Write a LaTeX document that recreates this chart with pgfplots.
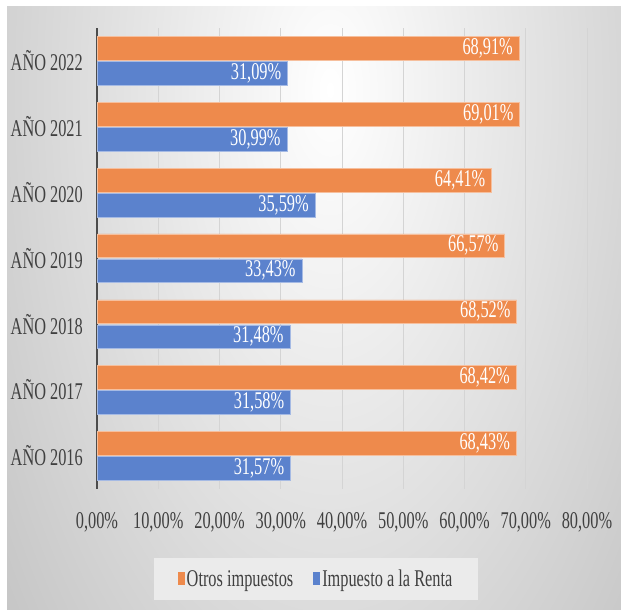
\documentclass[border=0pt]{standalone}
\usepackage{pgfplots}
\pgfplotsset{compat=1.18}
\usepackage{fontspec}
\setmainfont{Liberation Serif}[FakeStretch=0.68]
\definecolor{orOrange}{HTML}{EE8A4C}
\definecolor{orBlue}{HTML}{5B82CD}
\newcommand{\fs}{\fontsize{24}{28}\selectfont}
\begin{document}
\begin{tikzpicture}
\useasboundingbox (0pt,0pt) rectangle (621pt,610pt);
\begin{scope}
\clip (7pt,0pt) rectangle (621pt,603pt);
\shade[inner color=white, outer color=black!40] (330pt,520pt) ellipse (740pt and 1500pt);
\end{scope}
\begin{axis}[
  at={(97pt,121.4pt)}, anchor=south west,
  scale only axis, width=490pt, height=460.6pt,
  xmin=0, xmax=80, ymin=-0.5, ymax=6.5,
  xbar, bar width=0.36,
  axis x line*=bottom, axis y line*=left,
  x axis line style={draw=none},
  y axis line style={draw=black!70, line width=1.6pt, -},
  major tick length=0pt,
  xtick={0,10,...,80},
  ytick={0,...,6},
  yticklabels={AÑO 2016,AÑO 2017,AÑO 2018,AÑO 2019,AÑO 2020,AÑO 2021,AÑO 2022},
  /pgf/number format/assume math mode=true,
  xticklabel={\pgfmathprintnumber[fixed,fixed zerofill,precision=2,use comma,assume math mode=true]{\tick}\%},
  xticklabel style={font=\fs, text=black!75, inner sep=0pt, anchor=north, yshift=-24pt},
  yticklabel style={font=\fs, text=black!75, inner sep=0pt, anchor=east, xshift=-14pt},
  xmajorgrids, major grid style={draw=black!17, line width=0.9pt},
  point meta=x,
  nodes near coords={\pgfmathprintnumber[fixed,fixed zerofill,precision=2,use comma,assume math mode=true]{\pgfplotspointmeta}\%},
  every node near coord/.append style={font=\fs, text=white, anchor=east, inner sep=0pt, xshift=-6pt},
  legend columns=2,
  legend style={at={(0.447,-0.196)}, anchor=center, draw=none, fill=black!8,
    font=\fs, text=black!75, inner xsep=24pt, inner ysep=10pt,
    /tikz/every even column/.append style={column sep=18pt}},
  legend image code/.code={\fill[#1,draw=none] (0pt,-6.5pt) rectangle (7pt,6.5pt);},
]
\addplot[fill=orOrange, draw=white!45!orOrange, line width=0.5pt, bar shift=0.19] coordinates {
 (68.43,0) (68.42,1) (68.52,2) (66.57,3) (64.41,4) (69.01,5) (68.91,6)};
\addlegendentry{Otros impuestos}
\addplot[fill=orBlue, draw=white!45!orBlue, line width=0.5pt, bar shift=-0.19] coordinates {
 (31.57,0) (31.58,1) (31.48,2) (33.43,3) (35.59,4) (30.99,5) (31.09,6)};
\addlegendentry{Impuesto a la Renta}
\end{axis}
\end{tikzpicture}
\end{document}
